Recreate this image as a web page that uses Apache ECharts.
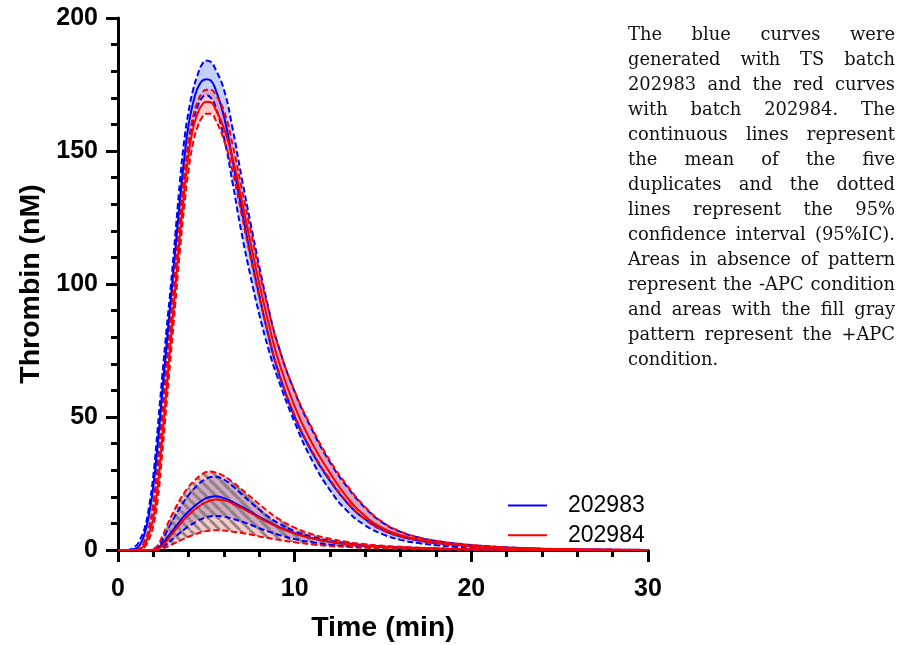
<!DOCTYPE html>
<html><head><meta charset="utf-8">
<script src="https://cdn.jsdelivr.net/npm/echarts@6/dist/echarts.min.js"></script>
<style>html,body{margin:0;padding:0;background:#fff}#c{width:901px;height:645px}</style>
</head><body><div id="c"></div>
<script>
// Time (min)
const T = [0, 0.5, 1, 1.25, 1.5, 1.75, 2, 2.25, 2.5, 2.75, 3, 3.25, 3.5, 3.75, 4, 4.25, 4.5, 4.75, 5, 5.25, 5.5, 6, 6.5, 7, 7.5, 8, 8.5, 9, 10, 11, 12, 13, 14, 15, 16, 17, 18, 19, 20, 22, 24, 26, 28, 30];
// -APC, batch 202983 (blue): mean, upper and lower 95% CI
const bMean = [0, 0, 0.5, 2, 6, 13, 24, 40, 59, 77, 95, 113, 131, 147, 160, 168, 173.5, 176.3, 177, 176.5, 173.5, 163, 146, 128, 111, 95.5, 81, 68.5, 50, 36.5, 26, 17.5, 11.5, 7.5, 5.1, 3.6, 2.6, 1.95, 1.45, 0.75, 0.37, 0.17, 0.07, 0.02];
const bUp = [0, 0, 1.5, 4, 8, 16, 28, 46, 65, 83, 100, 119, 138, 154, 165, 173, 178.5, 182.5, 184, 183.5, 181, 173, 158, 140, 123, 106.5, 91.5, 78.5, 59.5, 45, 33, 23.5, 15.8, 10.2, 6.8, 4.7, 3.4, 2.5, 1.85, 1.0, 0.5, 0.24, 0.1, 0.04];
const bLo = [0, 0, 0, 0.5, 3, 8, 17, 32, 51, 70, 88, 106, 124, 140, 152, 161, 166.5, 170, 171, 170, 167, 155, 137.5, 119, 103, 88.5, 76, 65.5, 48, 33.5, 22.5, 14.5, 9.2, 5.9, 3.8, 2.6, 1.8, 1.25, 0.9, 0.5, 0.27, 0.12, 0.05, 0.02];
// -APC, batch 202984 (red)
const rMean = [0, 0, 0, 0.3, 2, 6, 12, 24, 42, 61, 80, 99, 118, 135, 149, 158.5, 164, 167.3, 168.5, 168.3, 166, 158.5, 147, 131.5, 115.5, 100, 86, 73, 54, 40, 29, 19.5, 12.7, 8.2, 5.6, 4.0, 2.9, 2.15, 1.6, 0.85, 0.42, 0.2, 0.08, 0.03];
const rUp = [0, 0, 0, 0.5, 3, 8, 17, 30, 49, 68, 87, 106, 124, 141, 154, 163, 168.5, 171.8, 173, 173, 171.5, 165, 152, 136, 120.3, 104.7, 90.8, 78.2, 59.7, 45.6, 33.6, 24, 16.1, 10.4, 6.9, 4.8, 3.45, 2.5, 1.85, 1.0, 0.5, 0.24, 0.1, 0.04];
const rLo = [0, 0, 0, 0, 1, 4, 9, 19, 36, 55, 74, 93, 112, 129, 143, 153, 159, 162.5, 164, 164, 162, 154, 142, 126, 110, 95, 81.5, 69, 50.5, 37, 26.5, 17.8, 11.4, 7.3, 5.0, 3.6, 2.6, 1.95, 1.45, 0.75, 0.37, 0.17, 0.07, 0.02];
// +APC, batch 202983 (blue)
const bMeanA = [0, 0, 0, 0, 0, 0, 0.1, 0.6, 2.3, 4.3, 6.5, 8.7, 10.8, 12.8, 14.5, 16, 17.4, 18.6, 19.5, 20.0, 20.2, 19.5, 18.0, 16.3, 14.4, 12.5, 10.7, 9.0, 6.3, 4.4, 3.1, 2.2, 1.6, 1.2, 0.9, 0.65, 0.5, 0.35, 0.25, 0.12, 0.05, 0.02, 0, 0];
const bUpA = [0, 0, 0, 0, 0, 0, 0.2, 1, 3.5, 6.8, 10, 13, 15.8, 18.4, 20.7, 22.7, 24.4, 25.8, 26.8, 27.4, 27.5, 26.5, 24, 21, 18, 15.2, 12.6, 10.4, 7.1, 5.0, 3.5, 2.5, 1.8, 1.3, 1.0, 0.7, 0.5, 0.4, 0.3, 0.15, 0.07, 0.03, 0, 0];
const bLoA = [0, 0, 0, 0, 0, 0, 0, 0.2, 1, 2.2, 3.6, 5, 6.4, 7.7, 8.9, 9.9, 10.9, 11.7, 12.3, 12.7, 12.8, 12.5, 11.7, 10.7, 9.5, 8.2, 7.0, 5.9, 4.1, 2.9, 2.0, 1.4, 1.0, 0.7, 0.5, 0.35, 0.25, 0.18, 0.12, 0.05, 0.02, 0, 0, 0];
// +APC, batch 202984 (red)
const rMeanA = [0, 0, 0, 0, 0, 0, 0.05, 0.4, 1.6, 3.3, 5.5, 7.6, 9.6, 11.5, 13.2, 14.7, 16, 17.1, 18, 18.6, 19.0, 18.7, 17.4, 15.8, 14.0, 12.2, 10.4, 8.8, 6.2, 4.4, 3.1, 2.2, 1.6, 1.2, 0.9, 0.65, 0.5, 0.35, 0.25, 0.12, 0.05, 0.02, 0, 0];
const rUpA = [0, 0, 0, 0, 0, 0, 0.4, 1.8, 5, 8.8, 12.5, 15.8, 18.8, 21.5, 23.8, 25.6, 27.2, 28.5, 29.3, 29.5, 29.2, 27.8, 25.5, 22.8, 20, 17.2, 14.5, 12.1, 8.4, 5.9, 4.2, 3.0, 2.2, 1.6, 1.2, 0.9, 0.7, 0.5, 0.4, 0.2, 0.1, 0.05, 0, 0];
const rLoA = [0, 0, 0, 0, 0, 0, 0, 0.1, 0.5, 1.1, 1.9, 2.7, 3.5, 4.3, 5, 5.6, 6.2, 6.7, 7.1, 7.3, 7.4, 7.3, 6.9, 6.4, 5.8, 5.1, 4.5, 3.9, 2.9, 2.1, 1.5, 1.1, 0.8, 0.55, 0.4, 0.3, 0.2, 0.15, 0.1, 0.05, 0.02, 0, 0, 0];

const LEGEND = ['202983', '202984'];
const X_TITLE = 'Time (min)';
const Y_TITLE = 'Thrombin (nM)';
const NOTE = [
  'The blue curves were',
  'generated with TS batch',
  '202983 and the red curves',
  'with batch 202984. The',
  'continuous lines represent',
  'the mean of the five',
  'duplicates and the dotted',
  'lines represent the 95%',
  'confidence interval (95%IC).',
  'Areas in absence of pattern',
  'represent the -APC condition',
  'and areas with the fill gray',
  'pattern represent the +APC',
  'condition.'
];

const BLUE = '#0000ff', RED = '#ff0000';
const BLUE_FILL = 'rgba(60,100,240,0.3)', RED_FILL = 'rgba(255,60,60,0.28)';
const SANS = '"Liberation Sans", Arial, sans-serif';
const SMOOTH = 0.5;

function pairs(ys) { return T.map((t, i) => [t, ys[i]]); }

function hatch(bg) {
  const c = document.createElement('canvas');
  c.width = 10; c.height = 10;
  const g = c.getContext('2d');
  g.fillStyle = bg; g.fillRect(0, 0, 10, 10);
  g.strokeStyle = 'rgb(135,135,135)'; g.lineWidth = 2.8;
  [-10, 0, 10].forEach(o => { g.beginPath(); g.moveTo(o, 0); g.lineTo(o + 10, 10); g.stroke(); });
  return { type: 'pattern', image: c, repeat: 'repeat' };
}

// same bezier smoothing as the line series uses, so the band edges sit on the dashed lines
function segPath(pts, smooth) {
  let d = '';
  let prevX, prevY, cpx0, cpy0, cpx1, cpy1;
  const n = pts.length;
  for (let i = 0; i < n; i++) {
    const x = pts[i][0], y = pts[i][1];
    if (i === 0) { cpx0 = x; cpy0 = y; }
    else {
      const dx = x - prevX, dy = y - prevY;
      if (dx * dx + dy * dy < 0.5) continue;
      let ncx = x, ncy = y;
      if (i + 1 >= n) { cpx1 = x; cpy1 = y; }
      else {
        const nx = pts[i + 1][0], ny = pts[i + 1][1];
        let vx = nx - prevX, vy = ny - prevY;
        const lp = Math.hypot(x - prevX, y - prevY), ln = Math.hypot(nx - x, ny - y);
        const r = ln / (ln + lp);
        ncx = x + vx * smooth * r; ncy = y + vy * smooth * r;
        ncx = Math.min(ncx, Math.max(nx, x)); ncy = Math.min(ncy, Math.max(ny, y));
        ncx = Math.max(ncx, Math.min(nx, x)); ncy = Math.max(ncy, Math.min(ny, y));
        vx = ncx - x; vy = ncy - y;
        cpx1 = x - vx * lp / ln; cpy1 = y - vy * lp / ln;
        cpx1 = Math.min(cpx1, Math.max(prevX, x)); cpy1 = Math.min(cpy1, Math.max(prevY, y));
        cpx1 = Math.max(cpx1, Math.min(prevX, x)); cpy1 = Math.max(cpy1, Math.min(prevY, y));
        vx = x - cpx1; vy = y - cpy1;
        ncx = x + vx * ln / lp; ncy = y + vy * ln / lp;
      }
      d += 'C' + cpx0.toFixed(2) + ',' + cpy0.toFixed(2) + ',' + cpx1.toFixed(2) + ',' + cpy1.toFixed(2) + ',' + x.toFixed(2) + ',' + y.toFixed(2);
      cpx0 = ncx; cpy0 = ncy;
    }
    prevX = x; prevY = y;
  }
  return d;
}

function band(up, lo, fill) {
  return {
    type: 'custom', coordinateSystem: 'cartesian2d', data: pairs(up), encode: { x: 0, y: 1 },
    silent: true, clip: true, z: 1,
    renderItem: function (params, api) {
      if (params.dataIndex !== 0) return null;
      const U = T.map((t, i) => api.coord([t, up[i]]));
      const L = T.map((t, i) => api.coord([t, lo[i]])).reverse();
      const d = 'M' + U[0][0].toFixed(2) + ',' + U[0][1].toFixed(2) + segPath(U, SMOOTH) +
        'L' + L[0][0].toFixed(2) + ',' + L[0][1].toFixed(2) + segPath(L, SMOOTH) + 'Z';
      return { type: 'path', shape: { pathData: d }, style: { fill: fill, stroke: null } };
    }
  };
}
function line(name, ys, color, dashed) {
  return { type: 'line', name: name, data: pairs(ys), smooth: SMOOTH, symbol: 'none', silent: true,
    color: color, itemStyle: { color: color },
    lineStyle: { color: color, width: 2, type: dashed ? [6, 3] : 'solid' }, z: 2 };
}

// justified note text
const mctx = document.createElement('canvas').getContext('2d');
const SERIF = '"DejaVu Serif", serif';
function tw(s, fs) { mctx.font = fs + 'px ' + SERIF; return mctx.measureText(s).width; }
const maxW16 = Math.max.apply(null, NOTE.map(l => tw(l, 16)));
const noteFs = Math.min(18, 16 * 264 / maxW16);
const NL = 628, NR = 895, NTOP = 35, NSTEP = 25;
const noteEls = [];
NOTE.forEach((ln, i) => {
  const words = ln.split(' ');
  const ws = words.map(w => tw(w, noteFs));
  const sum = ws.reduce((a, b) => a + b, 0);
  const last = i === NOTE.length - 1;
  const gap = (last || words.length < 2) ? tw(' ', noteFs) : (NR - NL - sum) / (words.length - 1);
  let x = NL;
  words.forEach((w, k) => {
    noteEls.push({ type: 'text', x: x, y: NTOP + i * NSTEP, silent: true,
      style: { text: w, fontSize: noteFs, fontFamily: SERIF, fill: '#111', verticalAlign: 'middle', align: 'left' } });
    x += ws[k] + gap;
  });
});

const chart = echarts.init(document.getElementById('c'), null, { renderer: 'canvas' });
const axisCommon = {
  type: 'value',
  axisLine: { show: true, onZero: false, lineStyle: { color: '#000', width: 3 } },
  axisTick: { show: true, inside: false, length: 12, lineStyle: { color: '#000', width: 3 } },
  minorTick: { show: true, splitNumber: 5, length: 7, lineStyle: { color: '#000', width: 3 } },
  splitLine: { show: false },
  minorSplitLine: { show: false },
  nameLocation: 'middle',
  nameTextStyle: { fontSize: 28.5, fontWeight: 'bold', color: '#000', fontFamily: SANS }
};
chart.setOption({
  animation: false,
  backgroundColor: '#fff',
  grid: { left: 118, right: 253, top: 18, bottom: 95, containLabel: false, outerBoundsMode: 'none' },
  xAxis: Object.assign({}, axisCommon, {
    min: 0, max: 30, interval: 10, name: X_TITLE, nameGap: 64,
    axisLabel: { fontSize: 25, fontWeight: 'bold', color: '#000', fontFamily: SANS, margin: 27 }
  }),
  yAxis: Object.assign({}, axisCommon, {
    min: 0, max: 200, interval: 50, name: Y_TITLE, nameGap: 72,
    axisLabel: { fontSize: 25, fontWeight: 'bold', color: '#000', fontFamily: SANS, margin: 20 }
  }),
  legend: {
    data: LEGEND, orient: 'vertical', left: 508, top: 494, padding: 0,
    icon: 'rect', itemWidth: 39, itemHeight: 2, itemGap: 6.8, selectedMode: false,
    textStyle: { fontSize: 23, color: '#000', fontFamily: SANS, lineHeight: 20, padding: [0, 0, 0, 16] }
  },
  graphic: [{ type: 'group', children: noteEls }],
  series: [
    band(bUp, bLo, BLUE_FILL),
    band(rUp, rLo, RED_FILL),
    band(bUpA, bLoA, hatch(BLUE_FILL)),
    band(rUpA, rLoA, hatch(RED_FILL)),
    line('bUp', bUp, BLUE, true), line('bLo', bLo, BLUE, true), line(LEGEND[0], bMean, BLUE, false),
    line('bUpA', bUpA, BLUE, true), line('bLoA', bLoA, BLUE, true), line('bMeanA', bMeanA, BLUE, false),
    line('rUp', rUp, RED, true), line('rLo', rLo, RED, true), line(LEGEND[1], rMean, RED, false),
    line('rUpA', rUpA, RED, true), line('rLoA', rLoA, RED, true), line('rMeanA', rMeanA, RED, false)
  ]
});
</script>
</body></html>
